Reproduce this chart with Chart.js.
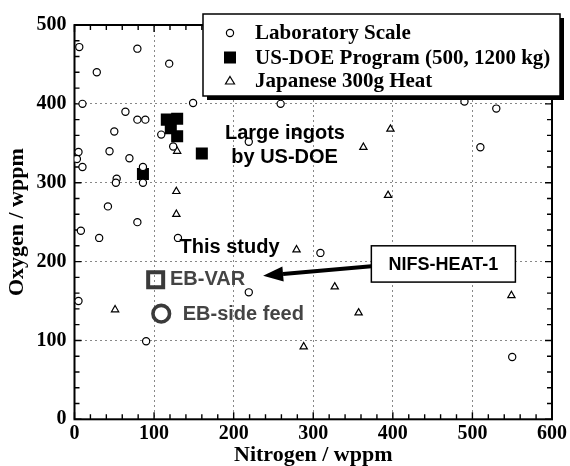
<!DOCTYPE html>
<html>
<head>
<meta charset="utf-8">
<script src="https://cdn.jsdelivr.net/npm/chart.js@4.4.1/dist/chart.umd.min.js"></script>
<style>
  html, body { margin: 0; padding: 0; background: #fff; }
  #wrap { width: 570px; height: 466px; }
</style>
</head>
<body>
<div id="wrap"><canvas id="oxygenChart" width="570" height="466"></canvas></div>
<script>
// Nitrogen / Oxygen (wppm) pairs
const labScale = [
  [6, 472], [79, 470], [28, 440], [119, 451], [10, 400], [149, 401], [259, 400],
  [64, 390], [79, 380], [89, 380], [50, 365], [109, 361], [124, 346], [44, 340],
  [5, 339], [3, 330], [10, 320], [69, 331], [86, 320], [53, 305], [52, 300],
  [86, 300], [219, 352], [280, 365], [490, 403], [530, 394], [510, 345], [42, 270],
  [79, 250], [8, 239], [31, 230], [130, 230], [309, 211], [219, 161], [5, 150],
  [90, 99], [550, 79]
];
const usDoe = [[116, 380], [129, 381], [121, 369], [129, 359], [160, 337], [86, 311]];
const japanese300g = [
  [129, 340], [128, 289], [128, 260], [397, 368], [363, 345], [394, 284],
  [279, 215], [327, 168], [549, 157], [51, 139], [357, 135], [288, 92]
];
const ebVar = [[102, 177]];
const ebSideFeed = [[109, 134]];

const X_MAX = 600;
const Y_MAX = 500;
const MAJOR_STEP = 100;
const MINOR_STEP = 20;

const SERIF = "'Liberation Serif', 'Times New Roman', serif";
const SANS = "'Liberation Sans', Arial, sans-serif";

const legendItems = [
  { label: "Laboratory Scale", style: "circle" },
  { label: "US-DOE Program (500, 1200 kg)", style: "rect" },
  { label: "Japanese 300g Heat", style: "triangle" }
];

// annotation positions are in data units
const notes = [
  { text: "Large ingots", x: 189, y: 363, color: "#000" },
  { text: "by US-DOE", x: 197, y: 332, color: "#000" },
  { text: "This study", x: 132, y: 218, color: "#000" },
  { text: "EB-VAR", x: 120, y: 177, color: "#444" },
  { text: "EB-side feed", x: 136, y: 133, color: "#444" }
];
const nifsBox = { x0: 373, x1: 554, y0: 220, y1: 174, text: "NIFS-HEAT-1" };
const nifsArrow = { from: [373, 194], to: [237, 182] };

function toPoints(pairs) {
  return pairs.map(([x, y]) => ({ x, y }));
}

function drawSymbol(ctx, style, x, y) {
  ctx.beginPath();
  if (style === "circle") {
    ctx.lineWidth = 1.2;
    ctx.arc(x, y, 3.6, 0, Math.PI * 2);
    ctx.stroke();
  } else if (style === "rect") {
    ctx.fillRect(x - 6, y - 6, 12, 12);
  } else {
    ctx.lineWidth = 1.2;
    ctx.moveTo(x, y - 4.5);
    ctx.lineTo(x + 4.5, y + 3);
    ctx.lineTo(x - 4.5, y + 3);
    ctx.closePath();
    ctx.stroke();
  }
}

const framePlugin = {
  id: "framePlugin",
  beforeDatasetsDraw(chart) {
    const { ctx, chartArea: a, scales: { x, y } } = chart;
    ctx.save();
    ctx.strokeStyle = "#000";
    ctx.lineWidth = 1.4;
    for (let v = 0; v <= X_MAX; v += MINOR_STEP) {
      const px = x.getPixelForValue(v);
      const len = v % MAJOR_STEP === 0 ? 7 : 5;
      ctx.beginPath();
      ctx.moveTo(px, a.bottom); ctx.lineTo(px, a.bottom - len);
      ctx.moveTo(px, a.top); ctx.lineTo(px, a.top + len);
      ctx.stroke();
    }
    for (let v = 0; v <= Y_MAX; v += MINOR_STEP) {
      const py = y.getPixelForValue(v);
      const len = v % MAJOR_STEP === 0 ? 7 : 5;
      ctx.beginPath();
      ctx.moveTo(a.left, py); ctx.lineTo(a.left + len, py);
      ctx.moveTo(a.right, py); ctx.lineTo(a.right - len, py);
      ctx.stroke();
    }
    ctx.lineWidth = 2;
    ctx.strokeRect(a.left, a.top, a.right - a.left, a.bottom - a.top);
    ctx.restore();
  },
  afterDatasetsDraw(chart) {
    const { ctx, scales: { x, y } } = chart;
    ctx.save();

    // text notes
    ctx.font = `bold 20px ${SANS}`;
    ctx.textBaseline = "middle";
    ctx.textAlign = "left";
    notes.forEach((n) => {
      ctx.fillStyle = n.color;
      ctx.fillText(n.text, x.getPixelForValue(n.x), y.getPixelForValue(n.y));
    });

    // NIFS box
    const bx0 = x.getPixelForValue(nifsBox.x0);
    const bx1 = x.getPixelForValue(nifsBox.x1);
    const by0 = y.getPixelForValue(nifsBox.y0);
    const by1 = y.getPixelForValue(nifsBox.y1);
    ctx.fillStyle = "#fff";
    ctx.fillRect(bx0, by0, bx1 - bx0, by1 - by0);
    ctx.strokeStyle = "#000";
    ctx.lineWidth = 1.5;
    ctx.strokeRect(bx0, by0, bx1 - bx0, by1 - by0);
    ctx.fillStyle = "#000";
    ctx.font = `bold 18px ${SANS}`;
    ctx.textAlign = "center";
    ctx.fillText(nifsBox.text, (bx0 + bx1) / 2, (by0 + by1) / 2 + 1);

    // arrow
    const sx = x.getPixelForValue(nifsArrow.from[0]);
    const sy = y.getPixelForValue(nifsArrow.from[1]);
    const tx = x.getPixelForValue(nifsArrow.to[0]);
    const ty = y.getPixelForValue(nifsArrow.to[1]);
    const ang = Math.atan2(ty - sy, tx - sx);
    const headLen = 20, headHalf = 7.5;
    const hx = tx - Math.cos(ang) * headLen;
    const hy = ty - Math.sin(ang) * headLen;
    ctx.lineWidth = 4;
    ctx.beginPath();
    ctx.moveTo(sx, sy);
    ctx.lineTo(hx, hy);
    ctx.stroke();
    ctx.beginPath();
    ctx.moveTo(tx, ty);
    ctx.lineTo(hx - Math.sin(ang) * headHalf, hy + Math.cos(ang) * headHalf);
    ctx.lineTo(hx + Math.sin(ang) * headHalf, hy - Math.cos(ang) * headHalf);
    ctx.closePath();
    ctx.fill();

    // legend box with drop shadow
    const L = 203, T = 14, W = 357, H = 82;
    ctx.fillStyle = "#000";
    ctx.fillRect(L + 4, T + 4, W, H);
    ctx.fillStyle = "#fff";
    ctx.fillRect(L, T, W, H);
    ctx.lineWidth = 1.5;
    ctx.strokeRect(L, T, W, H);
    ctx.font = `bold 21px ${SERIF}`;
    ctx.textAlign = "left";
    const rows = [34, 58.5, 82];
    legendItems.forEach((item, i) => {
      ctx.fillStyle = "#000";
      ctx.strokeStyle = "#000";
      drawSymbol(ctx, item.style, 230, rows[i] - 1);
      ctx.fillText(item.label, 255, rows[i]);
    });
    ctx.restore();
  }
};

const axisFont = { family: SERIF, size: 20, weight: "bold" };
const titleFont = { family: SERIF, size: 22, weight: "bold", lineHeight: 1.2 };

new Chart(document.getElementById("oxygenChart"), {
  type: "scatter",
  data: {
    datasets: [
      {
        label: "Laboratory Scale",
        data: toPoints(labScale),
        pointStyle: "circle",
        pointRadius: 3.6,
        borderWidth: 1.2,
        borderColor: "#000",
        backgroundColor: "#fff"
      },
      {
        label: "US-DOE Program (500, 1200 kg)",
        data: toPoints(usDoe),
        pointStyle: "rect",
        pointRadius: 8.5,
        borderWidth: 0,
        borderColor: "#000",
        backgroundColor: "#000"
      },
      {
        label: "Japanese 300g Heat",
        data: toPoints(japanese300g),
        pointStyle: "triangle",
        pointRadius: 4.2,
        borderWidth: 1.2,
        borderColor: "#000",
        backgroundColor: "#fff"
      },
      {
        label: "EB-VAR",
        data: toPoints(ebVar),
        pointStyle: "rect",
        pointRadius: 10.6,
        borderWidth: 4,
        borderColor: "#3a3a3a",
        backgroundColor: "rgba(0,0,0,0)"
      },
      {
        label: "EB-side feed",
        data: toPoints(ebSideFeed),
        pointStyle: "circle",
        pointRadius: 8.3,
        borderWidth: 3.6,
        borderColor: "#3a3a3a",
        backgroundColor: "rgba(0,0,0,0)"
      }
    ]
  },
  options: {
    responsive: false,
    animation: false,
    devicePixelRatio: 1,
    layout: { padding: { top: 25, right: 17.3, left: 0, bottom: 0 } },
    plugins: {
      legend: { display: false },
      tooltip: { enabled: false }
    },
    scales: {
      x: {
        type: "linear",
        min: 0,
        max: X_MAX,
        ticks: { stepSize: MAJOR_STEP, color: "#000", font: axisFont, padding: 3, maxRotation: 0 },
        grid: { color: "#888", lineWidth: 1, drawTicks: false },
        border: { display: false, dash: [2, 3] },
        title: { display: true, text: "Nitrogen / wppm", color: "#000", font: { ...titleFont, lineHeight: 1 }, padding: { top: 0, bottom: 0 } },
        afterFit: (scale) => { scale.height = 46.7; }
      },
      y: {
        type: "linear",
        min: 0,
        max: Y_MAX,
        ticks: { stepSize: MAJOR_STEP, color: "#000", font: axisFont, padding: 8 },
        grid: { color: "#888", lineWidth: 1, drawTicks: false },
        border: { display: false, dash: [2, 3] },
        title: { display: true, text: "Oxygen / wppm", color: "#000", font: titleFont, padding: { top: 4, bottom: 0 } },
        afterFit: (scale) => { scale.width = 74.5; }
      }
    }
  },
  plugins: [framePlugin]
});
</script>
</body>
</html>
